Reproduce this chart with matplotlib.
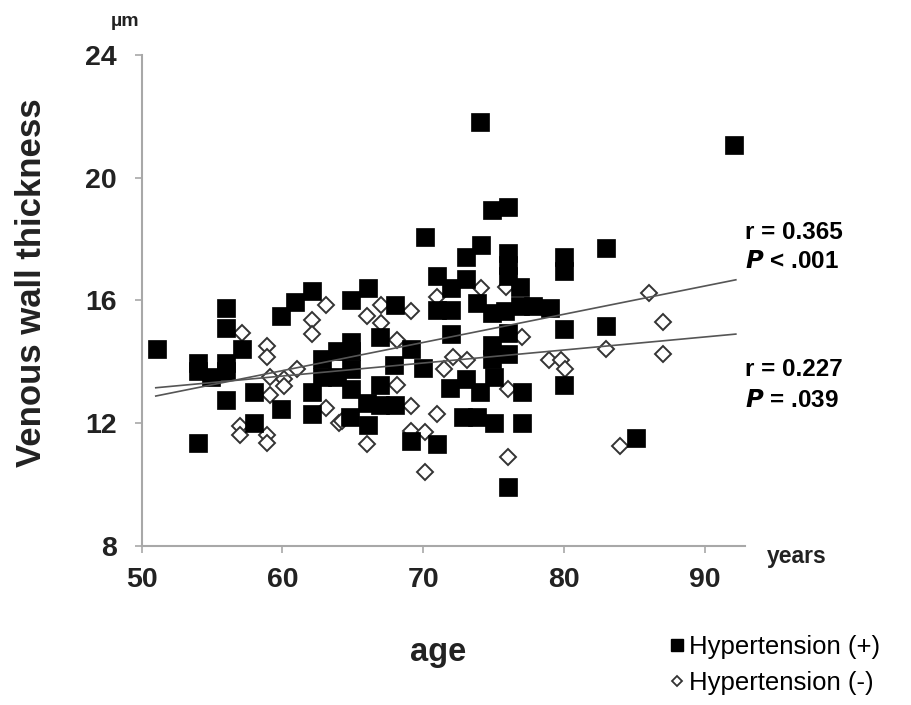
import matplotlib
matplotlib.use('Agg')
import matplotlib.pyplot as plt
from matplotlib.lines import Line2D
import numpy as np

plt.rcParams['font.family'] = ['Liberation Sans', 'DejaVu Sans']

# Hypertension (+) : age, venous wall thickness (um)
ht_pos_age = [51.1, 54.0, 54.0, 54.9, 54.0, 56.0, 56.0, 56.0, 56.0, 56.0, 57.1, 58.0, 58.0,
              59.9, 59.9, 60.9, 62.1, 62.1, 62.1, 62.8, 62.8, 63.9, 63.9, 64.8, 64.9, 64.9,
              64.9, 64.9, 64.9, 66.1, 66.0, 66.1, 66.9, 66.9, 66.9, 68.0, 67.9, 68.0, 69.1,
              69.1, 70.0, 70.1, 70.95, 70.95, 70.95, 72.0, 72.0, 72.0, 71.9, 72.8, 73.0, 73.0,
              73.0, 73.8, 73.8, 74.0, 74.0, 74.1, 74.9, 74.9, 74.9, 74.9, 75.0, 75.0, 75.8,
              76.0, 76.0, 76.0, 76.0, 76.0, 76.0, 76.0, 76.9, 76.9, 77.0, 77.0, 77.8, 79.0,
              80.0, 80.0, 80.0, 80.0, 83.0, 83.0, 85.1, 92.1]
ht_pos_vwt = [14.4, 13.95, 13.7, 13.5, 11.35, 15.75, 15.1, 13.95, 13.7, 12.75, 14.4, 13.0, 12.0,
              12.45, 15.5, 15.95, 16.3, 13.0, 12.3, 14.1, 13.5, 14.35, 13.5, 12.2, 16.0, 14.65,
              14.35, 13.75, 13.1, 16.4, 12.65, 11.95, 14.8, 13.25, 12.6, 15.85, 13.9, 12.6, 14.4,
              11.4, 13.8, 18.05, 16.8, 15.7, 11.3, 16.4, 15.7, 14.9, 13.15, 12.2, 16.7, 17.4,
              13.45, 15.9, 12.2, 21.8, 13.0, 17.8, 18.95, 15.6, 14.55, 14.1, 13.5, 12.0, 15.65,
              19.05, 17.55, 17.15, 16.8, 14.95, 14.25, 9.9, 16.45, 15.8, 13.0, 12.0, 15.8, 15.75,
              17.4, 16.95, 15.05, 13.25, 17.7, 15.15, 11.5, 21.05]

# Hypertension (-)
ht_neg_age = [57.1, 57.0, 57.0, 58.9, 58.9, 58.9, 58.9, 59.1, 59.1, 60.1, 60.1, 61.0, 62.1,
              62.1, 63.1, 63.1, 64.0, 64.2, 66.0, 66.0, 67.0, 67.0, 68.1, 68.1, 69.1, 69.1,
              69.1, 70.1, 70.1, 70.95, 70.95, 71.5, 72.1, 73.1, 74.1, 75.9, 76.0, 76.0, 77.0,
              78.9, 79.8, 80.1, 83.0, 84.0, 86.0, 87.0, 87.0]
ht_neg_vwt = [14.95, 11.9, 11.6, 14.5, 14.15, 11.6, 11.35, 13.5, 12.9, 13.45, 13.2, 13.75, 15.35,
              14.9, 15.85, 12.5, 12.0, 12.05, 15.5, 11.3, 15.85, 15.25, 14.7, 13.25, 15.65, 12.55,
              11.75, 11.7, 10.4, 16.1, 12.3, 13.75, 14.15, 14.05, 16.4, 16.45, 13.1, 10.9, 14.8,
              14.05, 14.05, 13.75, 14.4, 11.25, 16.25, 15.3, 14.25]

# regression lines (end points)
fit_age = [51.0, 92.2]
fit_pos = [12.88, 16.67]
fit_neg = [13.15, 14.90]

W, H = 911, 705
fig = plt.figure(figsize=(W / 100, H / 100), dpi=100)
ax = fig.add_axes([141.7 / W, 1 - 545.7 / H, (745 - 141.7) / W, (545.7 - 55) / H])

ax.plot(ht_neg_age, ht_neg_vwt, 'D', ms=8.3, mfc='white', mec='#333333', mew=1.4, ls='none', zorder=2)
ax.plot(ht_pos_age, ht_pos_vwt, 's', ms=13, mfc='black', mec='black', mew=0.5, ls='none', zorder=3)
ax.plot(fit_age, fit_pos, '-', color='#555555', lw=1.2, zorder=4)
ax.plot(fit_age, fit_neg, '-', color='#555555', lw=1.2, zorder=4)

ax.set_xlim(50, 92.85)
ax.set_ylim(8, 24)
ax.set_xticks([50, 60, 70, 80, 90])
ax.set_yticks([8, 12, 16, 20, 24])
for s in ['top', 'right']:
    ax.spines[s].set_visible(False)
for s in ['left', 'bottom']:
    ax.spines[s].set_color('#a8a8a8')
    ax.spines[s].set_linewidth(1.5)
ax.tick_params(colors='#a8a8a8', length=5, width=1.2, labelcolor='#222222', labelsize=20.5)
for lab in ax.get_xticklabels() + ax.get_yticklabels():
    lab.set_fontweight('bold')
ax.tick_params(axis='y', pad=13)
ax.tick_params(axis='x', pad=10)

fig.text(32 / W, 1 - 283 / H, 'Venous wall thickness', rotation=90, fontsize=25,
         fontweight='bold', ha='center', va='center', color='#222222')
fig.text(438 / W, 1 - 652 / H, 'age', fontsize=23.5, fontweight='bold', ha='center',
         va='center', color='#222222')
fig.text(125 / W, 1 - 21 / H, 'µm', fontsize=14, fontweight='bold', ha='center',
         va='center', color='#222222')
fig.text(797 / W, 1 - 556 / H, 'years', fontsize=16.5, fontweight='bold', ha='center',
         va='center', color='#222222')

fig.text(745 / W, 1 - 233 / H, 'r = 0.365', fontsize=17.5, fontweight='bold', ha='left', va='center')
fig.text(745 / W, 1 - 262 / H, r'$\bfit{P}$ < .001', fontsize=17.5, fontweight='bold', ha='left', va='center')
fig.text(745 / W, 1 - 370 / H, 'r = 0.227', fontsize=17.5, fontweight='bold', ha='left', va='center')
fig.text(745 / W, 1 - 400 / H, r'$\bfit{P}$ = .039', fontsize=17.5, fontweight='bold', ha='left', va='center')

handles = [Line2D([], [], marker='s', ls='none', ms=8, mfc='black', mec='black'),
           Line2D([], [], marker='D', ls='none', ms=5.5, mfc='white', mec='#333333', mew=1.3)]
fig.legend(handles, ['Hypertension (+)', 'Hypertension (-)'], loc='center left',
           bbox_to_anchor=(656 / W, 1 - 665 / H), frameon=False, fontsize=18.5,
           handlelength=0.6, handletextpad=0.2, labelspacing=0.45, borderpad=0)

fig.savefig('out.png', dpi=100)
